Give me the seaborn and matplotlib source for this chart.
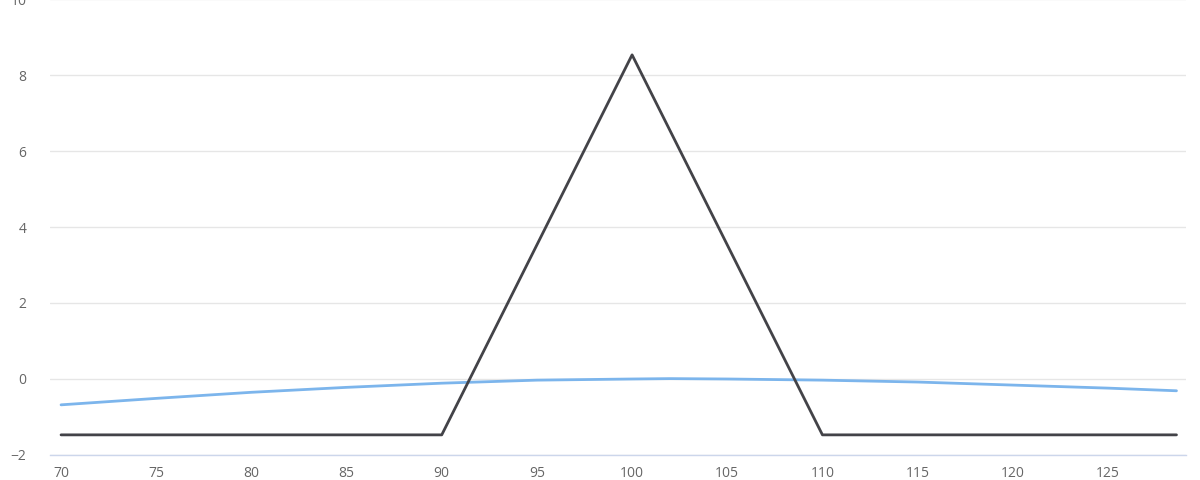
import numpy as np
import matplotlib
matplotlib.use("Agg")
import matplotlib.pyplot as plt
import seaborn as sns

# Payoff at expiry (butterfly)
payoff_x = [70, 90, 100, 110, 128.6]
payoff_y = [-1.47, -1.47, 8.53, -1.47, -1.47]

# Value today
value_x = [70, 75, 80, 85, 90, 95, 100, 102, 105, 110, 115, 120, 125, 128.6]
value_y = [-0.68, -0.51, -0.35, -0.22, -0.11, -0.03, 0.00, 0.01, 0.00,
           -0.03, -0.08, -0.16, -0.24, -0.31]

x_ticks = [70, 75, 80, 85, 90, 95, 100, 105, 110, 115, 120, 125]
y_ticks = [-2, 0, 2, 4, 6, 8, 10]

sns.set_style("white")
plt.rcParams['font.family'] = ['Open Sans', 'DejaVu Sans']

fig = plt.figure(figsize=(12, 4.8), dpi=100)
ax = fig.add_axes([50 / 1200, 25 / 480, 1136 / 1200, 456 / 480])

sns.lineplot(x=value_x, y=value_y, color='#7cb5ec', linewidth=2, ax=ax, zorder=3)
sns.lineplot(x=payoff_x, y=payoff_y, color='#434348', linewidth=2, ax=ax, zorder=4)

ax.set_xlim(69.42, 129.1)
ax.set_ylim(-2, 10)
ax.set_xticks(x_ticks)
ax.set_yticks(y_ticks)
ax.set_yticklabels(['\u22122' if t < 0 else str(t) for t in y_ticks])

ax.grid(axis='y', color='#e6e6e6', linewidth=1)
ax.grid(axis='x', visible=False)
for s in ['top', 'right', 'left']:
    ax.spines[s].set_visible(False)
ax.spines['bottom'].set_color('#ccd6eb')
ax.spines['bottom'].set_linewidth(1)

ax.tick_params(axis='x', length=7, width=1, color='#ccd6eb', labelsize=10,
               labelcolor='#666666', pad=1)
ax.tick_params(axis='y', length=0, labelsize=10, labelcolor='#666666', pad=17)

fig.savefig('out.png', dpi=100)
